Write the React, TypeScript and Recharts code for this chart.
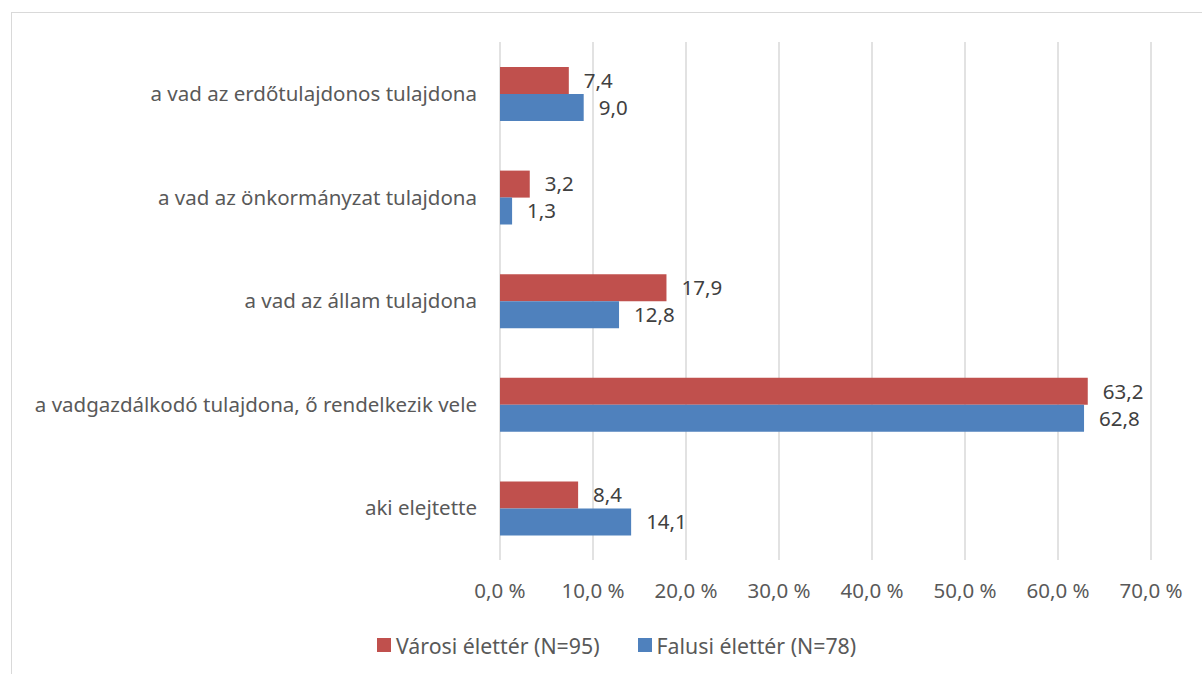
import React from "react";
import { BarChart, Bar, XAxis, YAxis, CartesianGrid, LabelList } from "recharts";

const categories = [
  "a vad az erdőtulajdonos tulajdona",
  "a vad az önkormányzat tulajdona",
  "a vad az állam tulajdona",
  "a vadgazdálkodó tulajdona, ő rendelkezik vele",
  "aki elejtette",
];
const varosi = [7.4, 3.2, 17.9, 63.2, 8.4];
const falusi = [9.0, 1.3, 12.8, 62.8, 14.1];
const xTicks = [0, 10, 20, 30, 40, 50, 60, 70];
const seriesNames = ["Városi élettér (N=95)", "Falusi élettér (N=78)"];
const colors = ["#C0504D", "#4F81BD"];

const data = categories.map((c, i) => ({ name: c, varosi: varosi[i], falusi: falusi[i] }));

const FONT = "'Noto Sans', sans-serif";
const FS = 20.5;
const fmt = (v: number) => v.toFixed(1).replace(".", ",");

export default function App() {
  return (
    <div style={{ position: "absolute", left: 0, top: 0, width: 1202, height: 674, background: "#fff", overflow: "hidden" }}>
      <div style={{ position: "absolute", left: 11, top: 12, width: 1300, height: 800, border: "1px solid #D9D9D9", boxSizing: "border-box" }} />
      <div style={{ position: "absolute", left: 0, top: 0 }}>
        <BarChart
          width={1202}
          height={674}
          data={data}
          layout="vertical"
          margin={{ top: 42, right: 51, bottom: 0, left: 0 }}
          barSize={27}
          barGap={0}
        >
          <CartesianGrid horizontal={false} vertical={true} stroke="#D9D9D9" strokeWidth={1.5} />
          <XAxis
            type="number"
            domain={[0, 70]}
            ticks={xTicks}
            tickFormatter={(v: number) => fmt(v) + " %"}
            axisLine={false}
            tickLine={false}
            tickSize={0}
            tickMargin={23}
            height={114}
            interval={0}
            tick={{ fill: "#595959", fontSize: FS, fontFamily: FONT }}
          />
          <YAxis
            type="category"
            dataKey="name"
            width={500}
            axisLine={false}
            tickLine={false}
            tickSize={0}
            tickMargin={23}
            interval={0}
            tick={{ fill: "#595959", fontSize: FS, fontFamily: FONT }}
          />
          <Bar dataKey="varosi" name={seriesNames[0]} fill={colors[0]} isAnimationActive={false}>
            <LabelList dataKey="varosi" position="right" offset={15} formatter={(v: number) => fmt(v)} style={{ fill: "#404040", fontSize: FS, fontFamily: FONT }} />
          </Bar>
          <Bar dataKey="falusi" name={seriesNames[1]} fill={colors[1]} isAnimationActive={false}>
            <LabelList dataKey="falusi" position="right" offset={15} formatter={(v: number) => fmt(v)} style={{ fill: "#404040", fontSize: FS, fontFamily: FONT }} />
          </Bar>
        </BarChart>
      </div>
      <div style={{ position: "absolute", left: 377, top: 631, height: 28, display: "flex", alignItems: "center", fontFamily: FONT, fontSize: 21.3, color: "#595959", whiteSpace: "nowrap" }}>
        {seriesNames.map((n, i) => (
          <div key={n} style={{ display: "flex", alignItems: "center", marginRight: i === 0 ? 38 : 0 }}>
            <div style={{ width: 14, height: 14, background: colors[i], marginRight: 5 }} />
            <span>{n}</span>
          </div>
        ))}
      </div>
    </div>
  );
}
